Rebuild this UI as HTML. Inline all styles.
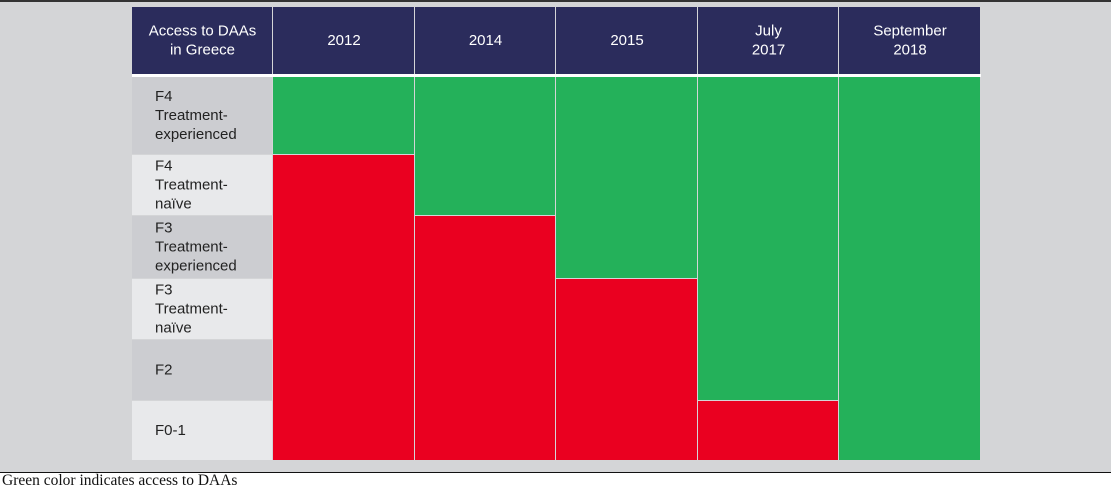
<!DOCTYPE html>
<html><head><meta charset="utf-8"><style>
body{margin:0;width:1111px;height:490px;overflow:hidden;background:#fff;font-family:"Liberation Sans",sans-serif;}
#bg{position:absolute;left:0;top:0;width:1111px;height:472px;background:#d4d5d7;border-top:2px solid #333;box-sizing:border-box}
#rule{position:absolute;left:0;top:472px;width:1111px;height:1px;background:#111}
#cap{position:absolute;left:2px;top:472px;font-family:"Liberation Serif",serif;font-size:15.5px;color:#111}
</style></head><body>
<div id="bg"></div>
<svg id="chart" width="1111" height="472" style="position:absolute;left:0;top:0"></svg>
<div id="rule"></div>
<div id="cap">Green color indicates access to DAAs</div>
<script>
const periods=["2012","2014","2015","July|2017","September|2018"];
const rowLabels=["F4|Treatment-|experienced","F4|Treatment-|naïve","F3|Treatment-|experienced","F3|Treatment-|naïve","F2","F0-1"];
const accessRows=[1,2,3,5,6];
const headerTitle="Access to DAAs|in Greece";
const svg=document.getElementById('chart');
const NS="http://www.w3.org/2000/svg";
const colX=[132,273,415,556,698,839,981];
const rowY=[77,155,216,279,340,401,461];
function xs(i){return colX[i];}
function ys(r){return rowY[r];}
function mk(t,a){const e=document.createElementNS(NS,t);for(const k in a)e.setAttribute(k,a[k]);svg.appendChild(e);return e;}
function txt(lines,x,y,anchor,fill,lh){const t=mk('text',{x:x,'text-anchor':anchor,fill:fill,'font-size':15,'font-family':'Liberation Sans, sans-serif'});
 const n=lines.length;lines.forEach((l,i)=>{const s=document.createElementNS(NS,'tspan');s.setAttribute('x',x);s.setAttribute('y',y-(n-1)*lh/2+i*lh+5);s.textContent=l;t.appendChild(s);});return t;}
// header
let h=mk('rect',{x:xs(0),y:7,width:xs(1)-xs(0)-1,height:67,fill:'#2b2c5c'});


let ht=txt(headerTitle.split('|'),(xs(0)+xs(1))/2,40,'middle','#fff',19);


periods.forEach((p,i)=>{
 const r=mk('rect',{x:xs(i+1),y:7,width:xs(i+2)-xs(i+1)-1,height:67,fill:'#2b2c5c'});
 
 
 const t=txt(p.split('|'),(xs(i+1)+xs(i+2))/2,40,'middle','#fff',19);
 
 
});
mk('rect',{x:xs(0),y:74,width:xs(6)-xs(0),height:3,fill:'#fff'});
rowLabels.forEach((l,r)=>{
 const c=mk('rect',{x:xs(0),y:ys(r),width:xs(1)-xs(0)-1,height:ys(r+1)-ys(r)-1,fill:r%2?'#e8e9eb':'#cccdd1'});
 
 
 const t=txt(l.split('|'),155,(ys(r)+ys(r+1))/2-1,'start','#222',19);
 
 
});
periods.forEach((p,i)=>{
 const k=accessRows[i];
 const x=xs(i+1),w=xs(i+2)-xs(i+1)-1;
 if(k>0){const g=mk('rect',{x:x,y:ys(0),width:w,height:ys(k)-ys(0)-1,fill:'#24b15a'});
  
  }
 if(k<rowLabels.length){const rd=mk('rect',{x:x,y:ys(k),width:w,height:ys(rowLabels.length)-ys(k)-1,fill:'#ea0020'});
  
  }
});
</script>
</body></html>
